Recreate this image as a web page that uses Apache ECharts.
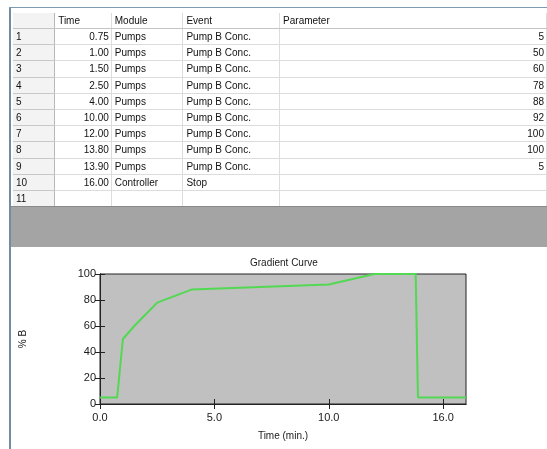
<!DOCTYPE html>
<html>
<head>
<meta charset="utf-8">
<script src="https://cdn.jsdelivr.net/npm/echarts@6/dist/echarts.min.js"></script>
<style>
  html, body { margin:0; padding:0; width:547px; height:449px; overflow:hidden; background:#ffffff; font-family:"Liberation Sans", Arial, sans-serif; }
  #chart { position:absolute; left:0; top:0; width:547px; height:449px; }
  #frameLeft { position:absolute; left:9px; top:7px; width:2px; height:442px; background:#6f8ea6; z-index:3; }
  #frameTop { position:absolute; left:9px; top:7px; width:538px; height:1px; background:#7c9ab0; z-index:3; }
  #band { position:absolute; left:11px; top:206px; width:536px; height:41px; background:#a4a4a4; border-top:1px solid #8a8a8a; box-sizing:border-box; z-index:2; }
  #tbl { position:absolute; left:13px; top:13px; z-index:2; border-collapse:collapse; table-layout:fixed; font-size:10px; color:#111; }
  #tbl td { height:15.2px; padding:0 3px; border-bottom:1px solid #dcdcdc; border-right:1px solid #dcdcdc; white-space:nowrap; overflow:hidden; line-height:15px; }
  #tbl tr.hdr td { height:14px; border-bottom:1px solid #c4c4c4; }
  #tbl td.rh { background:#f3f3f3; border-right:1px solid #b8b8b8; border-bottom:1px solid #c8c8c8; }
  #tbl td.num { text-align:right; padding-right:2px; }
  #tbl td.par { text-align:right; padding-right:2px; }
</style>
</head>
<body>
<div id="chart"></div>
<div id="frameLeft"></div>
<div id="frameTop"></div>
<table id="tbl"></table>
<div id="band"></div>
<script>
// ---- table data ----
const columnHeaders = ['', 'Time', 'Module', 'Event', 'Parameter'];
const rowTimes = ['0.75', '1.00', '1.50', '2.50', '4.00', '10.00', '12.00', '13.80', '13.90', '16.00', ''];
const rowModules = ['Pumps', 'Pumps', 'Pumps', 'Pumps', 'Pumps', 'Pumps', 'Pumps', 'Pumps', 'Pumps', 'Controller', ''];
const rowEvents = ['Pump B Conc.', 'Pump B Conc.', 'Pump B Conc.', 'Pump B Conc.', 'Pump B Conc.', 'Pump B Conc.', 'Pump B Conc.', 'Pump B Conc.', 'Pump B Conc.', 'Stop', ''];
const rowParams = ['5', '50', '60', '78', '88', '92', '100', '100', '5', '', ''];

// ---- gradient curve data ----
const curveTimes = [0, 0.75, 1.00, 1.50, 2.50, 4.00, 10.00, 12.00, 13.80, 13.90, 16.00];
const curvePercentB = [5, 5, 50, 60, 78, 88, 92, 100, 100, 5, 5];
const xTickValues = [0, 5, 10, 15];
const xTickLabels = ['0.0', '5.0', '10.0', '16.0'];
const yTickValues = [0, 20, 40, 60, 80, 100];

// build table
const colWidths = [42, 57, 72, 97, 270];
const tbl = document.getElementById('tbl');
const cg = document.createElement('colgroup');
colWidths.forEach(w => { const c = document.createElement('col'); c.style.width = w + 'px'; cg.appendChild(c); });
tbl.appendChild(cg);
const hr = document.createElement('tr'); hr.className = 'hdr';
columnHeaders.forEach((h, i) => { const td = document.createElement('td'); td.textContent = h; if (i === 0) td.className = 'rh'; hr.appendChild(td); });
tbl.appendChild(hr);
for (let r = 0; r < rowTimes.length; r++) {
  const tr = document.createElement('tr');
  const cells = [String(r + 1), rowTimes[r], rowModules[r], rowEvents[r], rowParams[r]];
  const cls = ['rh', 'num', '', '', 'par'];
  cells.forEach((v, i) => { const td = document.createElement('td'); td.textContent = v; if (cls[i]) td.className = cls[i]; tr.appendChild(td); });
  tbl.appendChild(tr);
}

// chart
const chart = echarts.init(document.getElementById('chart'), null, { renderer: 'canvas' });
const font = { fontFamily: 'Liberation Sans', fontSize: 11, color: '#1a1a1a' };
const tickStyle = { show: true, inside: true, length: 5, lineStyle: { color: '#222', width: 1 } };
chart.setOption({
  animation: false,
  backgroundColor: '#ffffff',
  title: {
    text: 'Gradient Curve', left: 245, top: 253,
    textStyle: { fontFamily: 'Liberation Sans', fontSize: 10, fontWeight: 'normal', color: '#1a1a1a' }
  },
  grid: { left: 100, top: 274, right: 81, bottom: 45, show: true, backgroundColor: '#c0c0c0', borderColor: '#222', borderWidth: 1 },
  xAxis: [{
    type: 'value', min: 0, max: 16, position: 'bottom',
    name: 'Time (min.)', nameLocation: 'middle', nameGap: 27,
    nameTextStyle: Object.assign({}, font, { fontSize: 10 }),
    axisLine: { show: true, lineStyle: { color: '#222', width: 1 } },
    axisTick: Object.assign({}, tickStyle, { customValues: xTickValues }),
    axisLabel: Object.assign({}, font, { customValues: xTickValues, margin: 8, formatter: v => xTickLabels[xTickValues.indexOf(v)] || '' }),
    splitLine: { show: false }
  }, {
    type: 'value', min: 0, max: 16, position: 'top',
    axisLine: { show: true, lineStyle: { color: '#222', width: 1 } },
    axisTick: Object.assign({}, tickStyle, { customValues: xTickValues }),
    axisLabel: { show: false }, splitLine: { show: false }
  }],
  yAxis: [{
    type: 'value', min: 0, max: 100, interval: 20, position: 'left',
    name: '% B', nameLocation: 'middle', nameGap: 72, nameRotate: 90,
    nameTextStyle: Object.assign({}, font, { fontSize: 10 }),
    axisLine: { show: true, lineStyle: { color: '#222', width: 1 } },
    axisTick: tickStyle,
    axisLabel: Object.assign({}, font, { margin: 4 }),
    splitLine: { show: false }
  }, {
    type: 'value', min: 0, max: 100, interval: 20, position: 'right',
    axisLine: { show: true, lineStyle: { color: '#222', width: 1 } },
    axisTick: tickStyle,
    axisLabel: { show: false }, splitLine: { show: false }
  }],
  series: [{
    type: 'line',
    data: curveTimes.map((t, i) => [t, curvePercentB[i]]),
    showSymbol: false, symbol: 'none',
    lineStyle: { color: '#52d852', width: 2 },
    clip: false
  }]
});
</script>
</body>
</html>
